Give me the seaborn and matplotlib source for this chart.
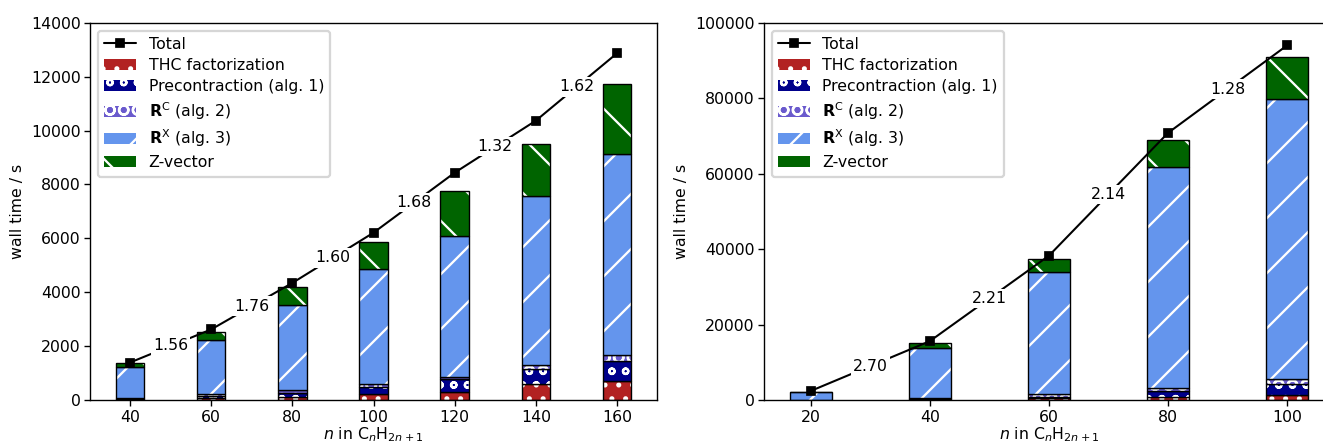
import numpy as np
import matplotlib
matplotlib.use('Agg')
import matplotlib.pyplot as plt
import seaborn as sns

# data (wall time in seconds)
n_left = [40, 60, 80, 100, 120, 140, 160]
thc_left = [25, 60, 122, 223, 308, 583, 716]
pre_left = [30, 90, 149, 271, 460, 556, 742]
rc_left = [30, 73, 100, 111, 97, 149, 212]
rx_left = [1128, 2003, 3154, 4245, 5231, 6282, 7470]
z_left = [149, 309, 657, 1013, 1670, 1940, 2585]
total_left = [1391, 2619, 4344, 6208, 8435, 10365, 12865]
exp_left = ['1.56', '1.76', '1.60', '1.68', '1.32', '1.62']

n_right = [20, 40, 60, 80, 100]
thc_right = [30, 150, 450, 880, 1325]
pre_right = [40, 250, 430, 1505, 2915]
rc_right = [30, 210, 790, 875, 1245]
rx_right = [2060, 13090, 32260, 58520, 74275]
z_right = [40, 1490, 3440, 7090, 11080]
total_right = [2400, 15600, 38250, 70800, 94000]
exp_right = ['2.70', '2.21', '2.14', '1.28']

labels = ['THC factorization', 'Precontraction (alg. 1)',
          r'$\mathbf{R}^{\mathrm{C}}$ (alg. 2)', r'$\mathbf{R}^{\mathrm{X}}$ (alg. 3)',
          'Z-vector']
colors = ['#B22222', '#00008B', '#6A5ACD', '#6495ED', '#006400']
hatches = ['..', 'oo', 'OO', '/', '\\']

sns.set_style('ticks')
plt.rcParams['font.family'] = ['DejaVu Sans']
FS = 6.9
plt.rcParams['font.size'] = FS
plt.rcParams['text.color'] = 'black'
plt.rcParams['axes.labelcolor'] = 'black'
plt.rcParams['axes.edgecolor'] = 'black'
plt.rcParams['xtick.color'] = 'black'
plt.rcParams['ytick.color'] = 'black'
plt.rcParams['hatch.linewidth'] = 1.0
plt.rcParams['axes.linewidth'] = 0.6
plt.rcParams['xtick.major.width'] = 0.6
plt.rcParams['ytick.major.width'] = 0.6
plt.rcParams['xtick.major.size'] = 2.5
plt.rcParams['ytick.major.size'] = 2.5
plt.rcParams['xtick.major.pad'] = 2.0
plt.rcParams['ytick.major.pad'] = 1.6
plt.rcParams['xtick.labelsize'] = FS
plt.rcParams['ytick.labelsize'] = FS
plt.rcParams['axes.labelsize'] = FS
plt.rcParams['legend.fontsize'] = FS

DPI = 165
fig = plt.figure(figsize=(1324 / DPI, 446 / DPI), dpi=DPI)
ax1 = fig.add_axes([0.068, 0.1031, 0.4282, 0.8460])
ax2 = fig.add_axes([0.577, 0.1031, 0.4305, 0.8460])


def draw_panel(ax, n, parts, total, exps, yticks):
    bottom = np.zeros(len(n))
    handles = []
    for vals, c, h, lab in zip(parts, colors, hatches, labels):
        vals = np.array(vals, dtype=float)
        # hatch in white, then a black outline on top
        b = ax.bar(n, vals, width=7, bottom=bottom, color=c, edgecolor='white',
                   hatch=h, linewidth=0, label=lab, zorder=2)
        ax.bar(n, vals, width=7, bottom=bottom, fill=False, edgecolor='black',
               linewidth=0.6, zorder=2)
        handles.append(b)
        bottom += vals
    sns.lineplot(x=n, y=total, ax=ax, color='black', marker='s', markersize=3.9,
                 markeredgecolor='black', linewidth=0.9, zorder=3, label='Total')
    line = ax.get_lines()[-1]
    for i, e in enumerate(exps):
        xm = (n[i] + n[i + 1]) / 2
        ym = (total[i] + total[i + 1]) / 2
        ax.text(xm, ym, e, ha='center', va='center', zorder=4,
                bbox=dict(facecolor='white', edgecolor='none', pad=1.0))
    ax.set_xticks(n)
    ax.set_yticks(yticks)
    ax.set_ylim(yticks[0], yticks[-1])
    ax.set_xlabel(r'$n$ in C$_n$H$_{2n+1}$', labelpad=0)
    ax.set_ylabel('wall time / s', labelpad=2.5)
    ax.legend([line] + handles, ['Total'] + labels, loc='upper left',
              handlelength=2.0, borderpad=0.4, labelspacing=0.38,
              framealpha=0.8, edgecolor='#cccccc')


draw_panel(ax1, n_left, [thc_left, pre_left, rc_left, rx_left, z_left],
           total_left, exp_left, np.arange(0, 14001, 2000))
draw_panel(ax2, n_right, [thc_right, pre_right, rc_right, rx_right, z_right],
           total_right, exp_right, np.arange(0, 100001, 20000))

fig.savefig('out.png', dpi=DPI)
